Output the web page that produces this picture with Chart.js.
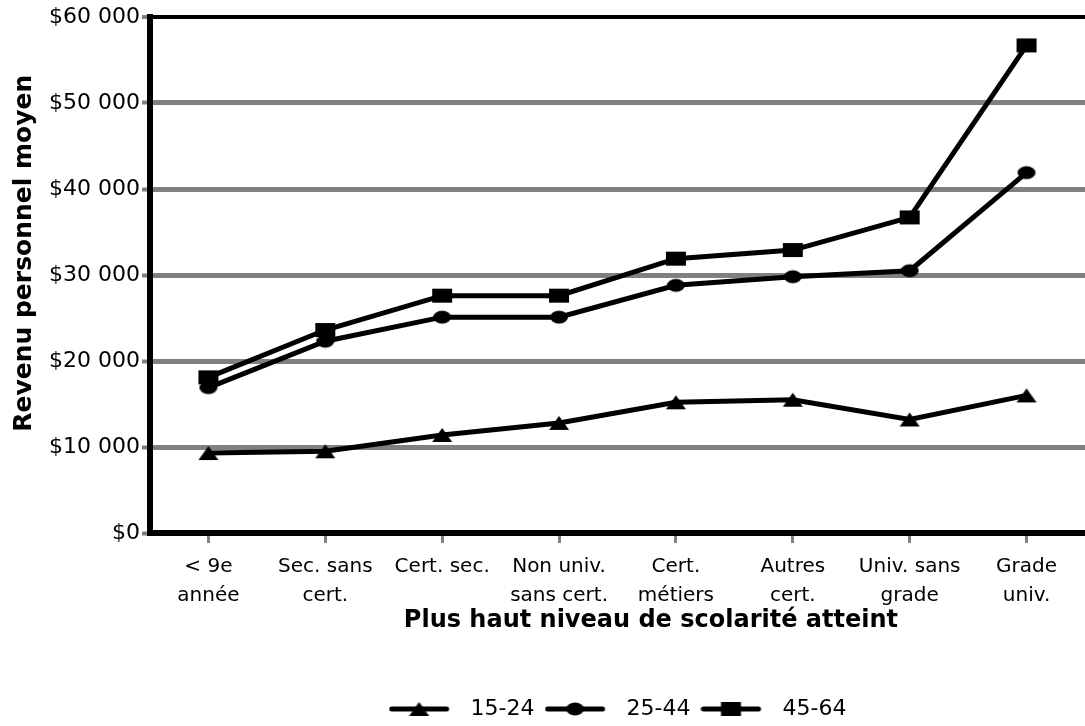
<html>
<head>
<script src="https://cdn.jsdelivr.net/npm/chart.js@4.4.0/dist/chart.umd.min.js"></script>
<style>
body { margin: 0; background: #fff; }
.chart-container { width: 1085px; height: 726px; }
</style>
</head>
<body>
<div class="chart-container"><canvas id="mychart"></canvas></div>
<script>
// categories (niveau de scolarité) and series (groupes d'âge)
let labels = [['< 9e', 'année'], ['Sec. sans', 'cert.'], ['Cert. sec.'], ['Non univ.', 'sans cert.'],
              ['Cert.', 'métiers'], ['Autres', 'cert.'], ['Univ. sans', 'grade'], ['Grade', 'univ.']];
let ages = ['15-24', '25-44', '45-64'];
let age15 = [9300, 9500, 11400, 12800, 15200, 15500, 13200, 16000];
let age25 = [16900, 22300, 25100, 25100, 28800, 29800, 30500, 41900];
let age45 = [18100, 23600, 27600, 27600, 31900, 32900, 36700, 56700];

const gray = '#808080';

// marker images (wide excel style markers)
function marker(kind) {
	const c = document.createElement('canvas');
	c.width = 22; c.height = 16;
	const ctx = c.getContext('2d');
	ctx.fillStyle = '#000';
	ctx.beginPath();
	if (kind == 'tri') {
		ctx.moveTo(1, 15); ctx.lineTo(11, 1); ctx.lineTo(21, 15); ctx.closePath();
	} else if (kind == 'circle') {
		ctx.ellipse(11, 8, 9, 6.5, 0, 0, Math.PI * 2);
	} else {
		ctx.rect(1, 1, 20, 14);
	}
	ctx.fill();
	return c;
}

function legendIcon(m) {
	const c = document.createElement('canvas');
	c.width = 71; c.height = 22;
	const ctx = c.getContext('2d');
	ctx.strokeStyle = '#000';
	ctx.lineWidth = 5;
	ctx.lineCap = 'round';
	ctx.beginPath();
	ctx.moveTo(3, 11); ctx.lineTo(58, 11);
	ctx.stroke();
	ctx.drawImage(m, 30.5 - 11, 11 - 8);
	return c;
}

let markers = [marker('tri'), marker('circle'), marker('rect')];
let icons = markers.map(legendIcon);

Chart.defaults.font.family = 'DejaVu Sans';
Chart.defaults.color = '#000';

let datasets = [age15, age25, age45].map(function(d, i) {
	return {
		label: ages[i],
		data: d,
		borderColor: '#000',
		backgroundColor: '#000',
		borderWidth: 5,
		pointStyle: markers[i],
		pointRadius: 8,
		tension: 0
	};
});

let chart = new Chart(document.getElementById('mychart'), {
	type: 'line',
	data: { labels: labels, datasets: datasets },
	options: {
		responsive: true,
		maintainAspectRatio: false,
		animation: false,
		layout: { autoPadding: false, padding: { top: 17, right: 0, bottom: -4, left: 0 } },
		plugins: {
			tooltip: { enabled: false },
			legend: {
				position: 'bottom',
				fullSize: false,
				labels: {
					usePointStyle: true,
					pointStyleWidth: 71,
					padding: 10,
					font: { size: 22 },
					generateLabels: function(c) {
						return c.data.datasets.map(function(ds, i) {
							return { text: ds.label, pointStyle: icons[i], fillStyle: '#000', strokeStyle: '#000',
								lineWidth: 0, hidden: false, datasetIndex: i, fontColor: '#000' };
						});
					}
				}
			}
		},
		scales: {
			x: {
				offset: true,
				afterFit: function(s) { s.height = 155; },
				grid: { drawOnChartArea: false, offset: false, tickLength: 10, tickColor: gray, tickWidth: 3 },
				border: { color: '#000', width: 6 },
				ticks: { padding: 9, maxRotation: 0, autoSkip: false, font: { size: 20, lineHeight: 1.45 } },
				title: {
					display: true,
					text: '        Plus haut niveau de scolarité atteint',
					font: { size: 24, weight: 'bold' },
					padding: { top: 0, bottom: 53 }
				}
			},
			y: {
				min: 0,
				max: 60000,
				afterFit: function(s) { s.width = 150; },
				grid: {
					color: function(ctx) { return ctx.tick && ctx.tick.value == 60000 ? '#000' : gray; },
					lineWidth: function(ctx) { return ctx.tick && ctx.tick.value == 60000 ? 4 : 5; },
					tickLength: 8,
					tickColor: gray,
					tickWidth: 4
				},
				border: { color: '#000', width: 6 },
				ticks: {
					stepSize: 10000,
					padding: 2,
					font: { size: 22 },
					callback: function(v) { return v == 0 ? '$0' : '$' + (v / 1000) + ' 000'; }
				},
				title: {
					display: true,
					text: '     Revenu personnel moyen',
					font: { size: 25, weight: 'bold' },
					padding: { top: 9, bottom: 0 }
				}
			}
		}
	}
});
</script>
</body>
</html>
